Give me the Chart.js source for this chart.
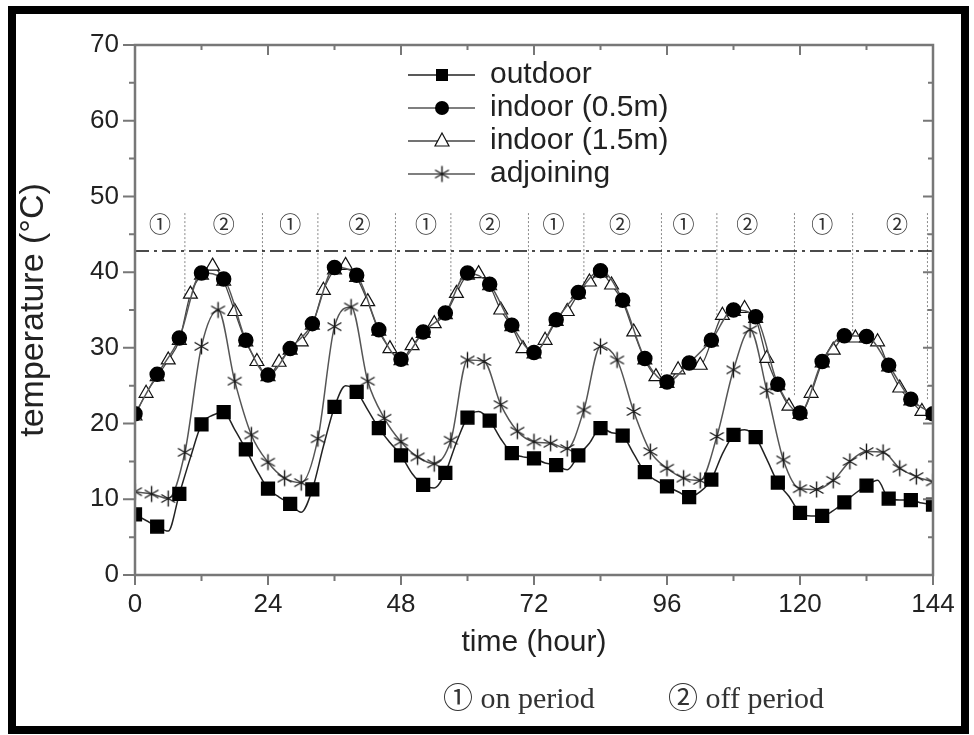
<!DOCTYPE html>
<html lang="en">
<head>
<meta charset="utf-8">
<title>temperature</title>
<script src="https://cdn.jsdelivr.net/npm/chart.js@4.4.0/dist/chart.umd.min.js"></script>
<style>
  html, body { margin: 0; padding: 0; background: #fff; }
</style>
</head>
<body>
<canvas id="myChart" width="974" height="735"></canvas>
<script>
// time axis for each series (hours)
const hours2 = [0,2,4,6,8,10,12,14,16,18,20,22,24,26,28,30,32,34,36,38,40,42,44,46,48,50,52,54,56,58,60,62,64,66,68,70,72,
  74,76,78,80,82,84,86,88,90,92,94,96,98,100,102,104,106,108,110,112,114,116,118,120,122,124,126,128,130,132,134,136,138,140,142,144];
const hours3 = [0,3,6,9,12,15,18,21,24,27,30,33,36,39,42,45,48,51,54,57,60,63,66,69,72,75,78,81,84,87,90,93,96,99,102,105,108,
  111,114,117,120,123,126,129,132,135,138,141,144];
const hours4 = [0,4,8,12,16,20,24,28,32,36,40,44,48,52,56,60,64,68,72,76,80,84,88,92,96,100,104,108,112,116,120,124,128,132,136,140,144];

// temperatures (°C)
const outdoor = [8.0,7.2,6.4,5.8,10.7,15.5,19.9,21.1,21.5,19.2,16.6,13.8,11.4,10.3,9.4,8.3,11.3,17.0,22.2,25.0,24.2,21.8,19.4,17.5,
  15.8,13.4,11.9,11.5,13.5,17.5,20.8,21.6,20.4,18.0,16.1,15.6,15.4,14.8,14.5,13.9,15.8,17.4,19.4,18.8,18.4,16.0,13.6,12.5,
  11.7,11.0,10.3,11.0,12.6,16.0,18.5,19.2,18.2,15.3,12.2,10.4,8.2,7.8,7.8,8.5,9.6,10.8,11.8,12.5,10.1,9.9,9.9,9.5,9.3];
const indoor05 = [21.3,26.5,31.3,39.9,39.1,31.0,26.4,29.9,33.2,40.6,39.6,32.4,28.5,32.1,34.6,39.9,38.4,33.0,29.4,33.7,37.3,40.2,
  36.3,28.6,25.5,28.0,31.0,35.0,34.1,25.2,21.4,28.2,31.6,31.5,27.7,23.2,21.3];
const indoor15 = [21.0,24.0,26.2,28.4,31.0,37.1,39.6,40.8,38.8,34.8,30.8,28.2,26.2,28.1,29.7,30.8,33.0,37.6,40.3,40.9,39.3,36.1,
  32.2,29.9,28.3,30.3,31.9,33.2,34.4,37.2,39.6,39.8,38.2,35.0,32.8,29.9,29.2,31.0,33.5,34.8,37.1,38.7,39.9,38.3,36.1,32.1,
  28.4,26.2,25.3,27.1,27.8,27.7,30.8,34.3,34.8,35.2,33.9,28.6,25.0,22.3,21.2,24.0,28.0,29.7,31.4,31.3,31.3,30.8,27.5,24.7,23.0,21.6,21.1];
const adjoining = [11.0,10.7,10.1,16.2,30.2,35.0,25.6,18.5,14.9,12.8,12.2,18.0,32.8,35.4,25.6,20.7,17.6,15.6,14.7,17.8,28.4,28.2,
  22.5,19.0,17.6,17.4,16.7,21.8,30.2,28.4,21.6,16.3,14.1,12.8,12.5,18.3,27.1,32.4,24.4,15.2,11.4,11.3,12.5,15.0,16.3,16.2,14.1,13.0,12.3];

// on/off switching (hour) and where each dotted line stops (°C)
const switchHours = [9,23,33,47,57,71,81,95,105,119,129.5,143];
const switchLow   = [36.8,28.0,37.6,28.8,36.8,30.6,38.0,26.2,34.1,23.5,31.5,23.1];
const periodLabelHours = [4.5,16,28,40.5,52.5,64,75.5,87.5,99,110.5,124,137.5];
const periodLabels = ['①','②','①','②','①','②','①','②','①','②','①','②'];
const limitTemp = 42.8;

const xTicks = [0,24,48,72,96,120,144];
const yTicks = [0,10,20,30,40,50,60,70];

const SANS = '"Liberation Sans", Arial, sans-serif';

function pts(xs, ys) { return xs.map((x, i) => ({x: x, y: ys[i]})); }

// six-armed asterisk like the original plot, used as a point style
function starPoint() {
    let c = document.createElement('canvas');
    c.width = 19; c.height = 19;
    let g = c.getContext('2d');
    g.strokeStyle = '#1a1a1a';
    g.lineWidth = 1.4;
    g.beginPath();
    for (let a = 0; a < 3; a++) {
        let t = Math.PI / 2 + a * Math.PI / 3;
        g.moveTo(9.5 - 8 * Math.cos(t), 9.5 - 8 * Math.sin(t));
        g.lineTo(9.5 + 8 * Math.cos(t), 9.5 + 8 * Math.sin(t));
    }
    g.stroke();
    return c;
}
const STAR = starPoint();

function drawMark(ctx, style, x, y) {
    ctx.save();
    ctx.strokeStyle = '#111';
    ctx.fillStyle = '#000';
    ctx.lineWidth = 1.2;
    ctx.beginPath();
    if (style == 'rect') {
        ctx.rect(x - 6, y - 6, 12, 12); ctx.fill();
    } else if (style == 'circle') {
        ctx.arc(x, y, 7, 0, Math.PI * 2); ctx.fill();
    } else if (style == 'triangle') {
        ctx.moveTo(x, y - 8); ctx.lineTo(x + 7, y + 5); ctx.lineTo(x - 7, y + 5); ctx.closePath();
        ctx.fillStyle = '#fff'; ctx.fill(); ctx.stroke();
    } else {
        ctx.drawImage(STAR, x - 9.5, y - 9.5);
    }
    ctx.restore();
}

const decor = {
    id: 'decor',
    beforeDraw(chart) {
        const ctx = chart.ctx;
        ctx.save();
        ctx.fillStyle = '#fff';
        ctx.fillRect(0, 0, chart.width, chart.height);
        ctx.strokeStyle = '#000';
        ctx.lineWidth = 8;
        ctx.strokeRect(12, 10, 953, 720);
        ctx.restore();
    },
    beforeDatasetsDraw(chart) {
        const ctx = chart.ctx, x = chart.scales.x, y = chart.scales.y;
        const a = chart.chartArea;
        ctx.save();
        // dotted on/off switching lines
        ctx.strokeStyle = '#8a8a8a';
        ctx.lineWidth = 1;
        ctx.setLineDash([2, 2]);
        switchHours.forEach((h, i) => {
            ctx.beginPath();
            ctx.moveTo(x.getPixelForValue(h), y.getPixelForValue(47.8));
            ctx.lineTo(x.getPixelForValue(h), y.getPixelForValue(switchLow[i]));
            ctx.stroke();
        });
        // dash-dot limit line
        ctx.strokeStyle = '#111';
        ctx.lineWidth = 1.6;
        ctx.setLineDash([14, 5, 3, 5]);
        ctx.beginPath();
        ctx.moveTo(a.left, y.getPixelForValue(limitTemp));
        ctx.lineTo(a.right, y.getPixelForValue(limitTemp));
        ctx.stroke();
        ctx.setLineDash([]);
        // circled period numbers
        ctx.fillStyle = '#333';
        ctx.font = '22px "DejaVu Serif", "Noto Sans CJK JP", serif';
        ctx.textAlign = 'center';
        ctx.textBaseline = 'middle';
        periodLabelHours.forEach((h, i) => {
            ctx.fillText(periodLabels[i], x.getPixelForValue(h), y.getPixelForValue(46));
        });
        ctx.restore();
    },
    afterDraw(chart) {
        const ctx = chart.ctx, x = chart.scales.x, y = chart.scales.y;
        const a = chart.chartArea;
        ctx.save();
        // axis frame
        ctx.strokeStyle = '#777';
        ctx.lineWidth = 2.5;
        ctx.strokeRect(a.left, a.top, a.right - a.left, a.bottom - a.top);
        ctx.lineWidth = 2;
        ctx.beginPath();
        for (let v = 0; v <= 70; v += 5) {
            const py = y.getPixelForValue(v);
            const big = v % 10 == 0;
            ctx.moveTo(a.left - (big ? 12 : 6), py); ctx.lineTo(a.left, py);
            ctx.moveTo(a.right, py); ctx.lineTo(a.right - (big ? 10 : 5), py);
        }
        for (let h = 0; h <= 144; h += 12) {
            const px = x.getPixelForValue(h);
            const big = h % 24 == 0;
            ctx.moveTo(px, a.bottom); ctx.lineTo(px, a.bottom + (big ? 10 : 6));
            ctx.moveTo(px, a.top); ctx.lineTo(px, a.top + (big ? 10 : 5));
        }
        ctx.stroke();

        // legend
        const rows = [75, 108, 141, 174];
        ctx.font = '30px ' + SANS;
        ctx.textBaseline = 'middle';
        ctx.textAlign = 'left';
        chart.data.datasets.forEach((ds, i) => {
            ctx.strokeStyle = ds.borderColor;
            ctx.lineWidth = 1.5;
            ctx.beginPath();
            ctx.moveTo(408, rows[i]); ctx.lineTo(475, rows[i]);
            ctx.stroke();
            drawMark(ctx, ds.markName, 442, rows[i]);
            ctx.fillStyle = '#222';
            ctx.fillText(ds.label, 490, rows[i]);
        });

        // period key under the axis
        ctx.font = '30px "Liberation Serif", "DejaVu Serif", "Noto Sans CJK JP", serif';
        ctx.fillStyle = '#333';
        ctx.fillText('① on period', 443, 700);
        ctx.fillText('② off period', 668, 700);
        ctx.restore();
    }
};

const ctx = document.getElementById('myChart').getContext('2d');
const myChart = new Chart(ctx, {
    type: 'line',
    data: {
        datasets: [
            {
                label: 'outdoor', data: pts(hours2, outdoor), order: 2, markName: 'rect',
                borderColor: '#222', borderWidth: 1.5, cubicInterpolationMode: 'monotone',
                pointStyle: 'rect', pointBackgroundColor: '#000', pointBorderColor: '#000',
                pointRadius: (c) => c.dataIndex % 2 == 0 ? 9 : 0
            },
            {
                label: 'indoor (0.5m)', data: pts(hours4, indoor05), order: 0, markName: 'circle',
                borderColor: '#555', borderWidth: 1.5, cubicInterpolationMode: 'monotone',
                pointStyle: 'circle', pointBackgroundColor: '#000', pointBorderColor: '#000', pointRadius: 7
            },
            {
                label: 'indoor (1.5m)', data: pts(hours2, indoor15), order: 1, markName: 'triangle',
                borderColor: '#444', borderWidth: 1.3, cubicInterpolationMode: 'monotone',
                pointStyle: 'triangle', pointBackgroundColor: '#fff', pointBorderColor: '#111',
                pointBorderWidth: 1.2, pointRadius: 8
            },
            {
                label: 'adjoining', data: pts(hours3, adjoining), order: 3, markName: 'star',
                borderColor: '#555', borderWidth: 1.5, cubicInterpolationMode: 'monotone',
                pointStyle: STAR, pointRadius: 8
            }
        ]
    },
    options: {
        responsive: false,
        animation: false,
        events: [],
        devicePixelRatio: 1,
        layout: { padding: { top: 45, right: 41, left: 0, bottom: 0 } },
        plugins: { legend: { display: false }, tooltip: { enabled: false } },
        scales: {
            x: {
                type: 'linear', min: 0, max: 144,
                afterFit: (s) => { s.height = 160; },
                afterBuildTicks: (s) => { s.ticks = xTicks.map(v => ({value: v})); },
                grid: { display: false, drawTicks: false },
                border: { display: false },
                ticks: { color: '#222', font: { size: 26, family: SANS }, padding: 14, maxRotation: 0 },
                title: { display: true, text: 'time (hour)', color: '#222',
                         font: { size: 30, family: SANS }, padding: { top: 0, bottom: 74 } }
            },
            y: {
                min: 0, max: 70,
                afterFit: (s) => { s.width = 135; },
                afterBuildTicks: (s) => { s.ticks = yTicks.map(v => ({value: v})); },
                grid: { display: false, drawTicks: false },
                border: { display: false },
                ticks: { color: '#222', font: { size: 26, family: SANS }, padding: 16 },
                title: { display: true, text: 'temperature (°C)', color: '#222',
                         font: { size: 34, family: SANS }, padding: { top: 13, bottom: 0 } }
            }
        }
    },
    plugins: [decor]
});
</script>
</body>
</html>
